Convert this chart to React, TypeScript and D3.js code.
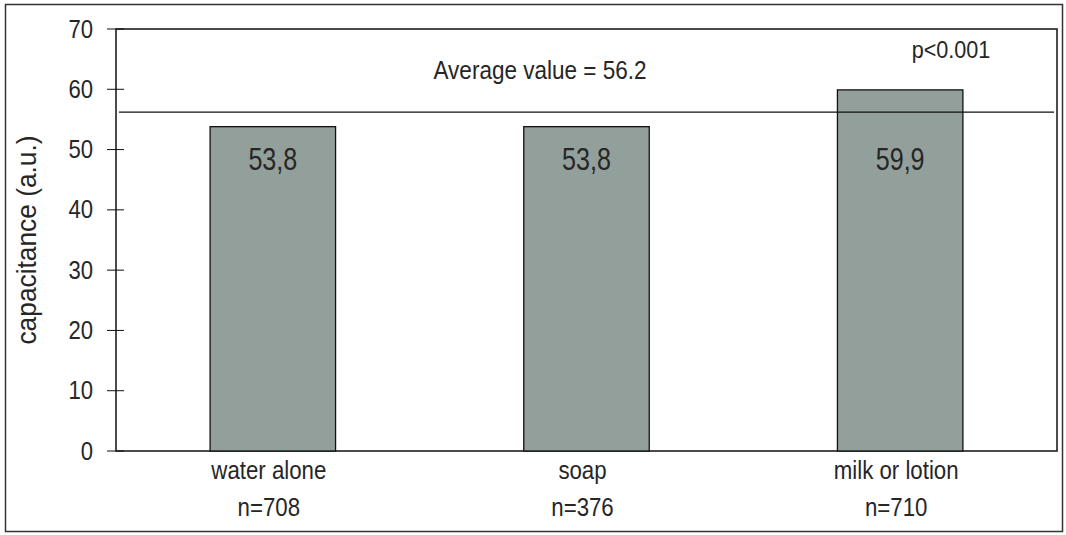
import React from "react";
import * as d3 from "d3";

const categories = ["water alone", "soap", "milk or lotion"];
const sampleSizes = ["n=708", "n=376", "n=710"];
const values = [53.8, 53.8, 59.9];
const valueLabels = ["53,8", "53,8", "59,9"];
const yTicks = [0, 10, 20, 30, 40, 50, 60, 70];
const averageValue = 56.2;
const averageLabel = "Average value = 56.2";
const pLabel = "p<0.001";

const W = 1066;
const H = 535;
const plot = { left: 116, right: 1057, top: 29, bottom: 451 };
const font = "'Liberation Sans', Arial, sans-serif";
const ink = "#262626";

type LabelProps = {
  x: number;
  y: number;
  size: number;
  sx?: number;
  anchor?: "start" | "middle" | "end";
  rotate?: number;
  children: React.ReactNode;
};

// Text with optional horizontal condensing (narrow sans look)
function Label({ x, y, size, sx = 1, anchor = "middle", rotate = 0, children }: LabelProps) {
  return (
    <text
      transform={`translate(${x},${y}) rotate(${rotate}) scale(${sx},1)`}
      textAnchor={anchor}
      fontSize={size}
      fill={ink}
    >
      {children}
    </text>
  );
}

export default function App() {
  const x = d3
    .scaleBand<string>()
    .domain(categories)
    .range([plot.left, plot.right])
    .paddingInner(0.6)
    .paddingOuter(0.3);
  const y = d3.scaleLinear().domain([0, 70]).range([plot.bottom, plot.top]);
  const cx = (c: string) => (x(c) as number) + x.bandwidth() / 2;

  return (
    <svg
      width={W}
      height={H}
      style={{ position: "absolute", left: 0, top: 0, background: "#fff" }}
      fontFamily={font}
    >
      {/* outer frame */}
      <rect x={5.5} y={4.5} width={1057} height={527} fill="none" stroke="#333" strokeWidth={1.5} />

      {/* plot box */}
      <rect
        x={plot.left}
        y={plot.top}
        width={plot.right - plot.left}
        height={plot.bottom - plot.top}
        fill="#fff"
        stroke="#111"
        strokeWidth={1.5}
      />

      {/* y ticks and labels */}
      {yTicks.map((t) => (
        <g key={t}>
          <line x1={plot.left - 9} x2={plot.left + 8} y1={y(t)} y2={y(t)} stroke="#111" strokeWidth={1} />
          <Label x={93} y={y(t) + 8.5} size={26} sx={0.85} anchor="end">
            {t}
          </Label>
        </g>
      ))}

      <Label x={35.5} y={240} size={28} sx={0.94} rotate={-90}>
        capacitance (a.u.)
      </Label>

      {/* bars */}
      {categories.map((c, i) => (
        <g key={c}>
          <rect
            x={x(c)}
            y={y(values[i])}
            width={x.bandwidth()}
            height={y(0) - y(values[i])}
            fill="#929f9a"
            stroke="#111"
            strokeWidth={1.3}
          />
          <Label x={cx(c)} y={y(46.6)} size={31} sx={0.81}>
            {valueLabels[i]}
          </Label>
          <Label x={cx(c) - 4} y={479} size={25} sx={0.89}>
            {c}
          </Label>
          <Label x={cx(c) - 4} y={516} size={25} sx={0.89}>
            {sampleSizes[i]}
          </Label>
        </g>
      ))}

      {/* average line */}
      <line
        x1={plot.left + 3}
        x2={plot.right - 3}
        y1={y(averageValue)}
        y2={y(averageValue)}
        stroke="#111"
        strokeWidth={1.3}
      />
      <Label x={540} y={79} size={26.5} sx={0.85}>
        {averageLabel}
      </Label>
      <Label x={951} y={58} size={24} sx={0.9}>
        {pLabel}
      </Label>
    </svg>
  );
}
